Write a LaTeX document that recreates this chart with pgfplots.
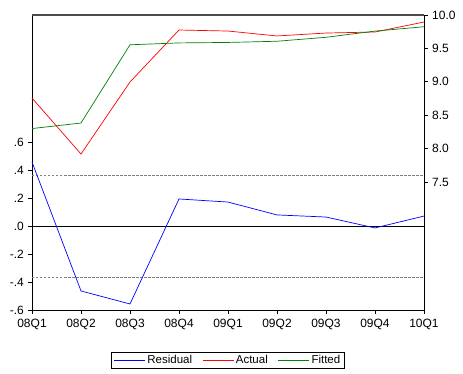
\documentclass[border=0pt]{standalone}
\usepackage{pgfplots}
\pgfplotsset{compat=1.18}
\usepackage{fontspec}
\setmainfont{Liberation Sans}
\begin{document}
\fontsize{12}{14}\selectfont
\begin{tikzpicture}
\pgfplotsset{
  base/.style={
    width=392pt, height=295pt, scale only axis,
    xmin=0, xmax=8,
    tick align=outside, major tick length=4pt,
    every tick/.style={black, line width=0.6pt},
    /pgf/number format/assume math mode=true,
    tick label style={font=\fontsize{12}{14}\selectfont},
    clip=false,
  }
}
\begin{axis}[base,
  axis x line*=bottom, axis y line*=left,
  axis line style={black, line width=0.8pt, -},
  ymin=-0.6, ymax=1.507,
  ytick={-0.6,-0.4,-0.2,0,0.2,0.4,0.6},
  yticklabels={-.6,-.4,-.2,.0,.2,.4,.6},
  xtick={0,...,8},
  xticklabels={08Q1,08Q2,08Q3,08Q4,09Q1,09Q2,09Q3,09Q4,10Q1},
  xticklabel style={yshift=-1pt},
]
\path (rel axis cs:0,0) ++(-32pt,-64pt) rectangle ++(463pt,374pt);
\addplot[black, line width=0.7pt] coordinates {(0,0) (8,0)};
\addplot[gray, line width=0.6pt, dash pattern=on 2.5pt off 1.5pt] coordinates {(0,0.364) (8,0.364)};
\addplot[gray, line width=0.6pt, dash pattern=on 2.5pt off 1.5pt] coordinates {(0,-0.364) (8,-0.364)};
\addplot[blue, line width=0.7pt] coordinates {
(0,0.457) (1,-0.464) (2,-0.557) (3,0.193) (4,0.171) (5,0.079) (6,0.064) (7,-0.014) (8,0.071)};
\draw[gray!60!black, line width=1.2pt] (rel axis cs:0,1) -- (rel axis cs:1,1);
\end{axis}
\begin{axis}[base,
  axis x line=none, axis y line*=right,
  axis line style={black, line width=0.8pt, -},
  ymin=5.584, ymax=10.0,
  ytick={7.5,8,8.5,9,9.5,10},
  yticklabel style={/pgf/number format/.cd, fixed, fixed zerofill, precision=1},
  legend columns=3,
  legend style={at={(0.5,-0.142)}, anchor=north, draw=black, line width=0.8pt,
    font=\fontsize{11.5}{13}\selectfont, inner xsep=2pt, inner ysep=1pt,
    /tikz/every even column/.append style={column sep=8pt}},
  legend image code/.code={\draw[#1] plot coordinates {(0pt,0pt) (15.5pt,0pt) (31pt,0pt)};},
]
\addlegendimage{blue, line width=0.7pt}
\addlegendentry{Residual}
\addplot[red, line width=0.7pt] coordinates {
(0,8.757) (1,7.919) (2,8.997) (3,9.775) (4,9.76) (5,9.686) (6,9.73) (7,9.745) (8,9.895)};
\addlegendentry{Actual}
\addplot[green!50!black, line width=0.7pt] coordinates {
(0,8.30) (1,8.383) (2,9.554) (3,9.582) (4,9.589) (5,9.607) (6,9.666) (7,9.759) (8,9.824)};
\addlegendentry{Fitted}
\end{axis}
\end{tikzpicture}
\end{document}
